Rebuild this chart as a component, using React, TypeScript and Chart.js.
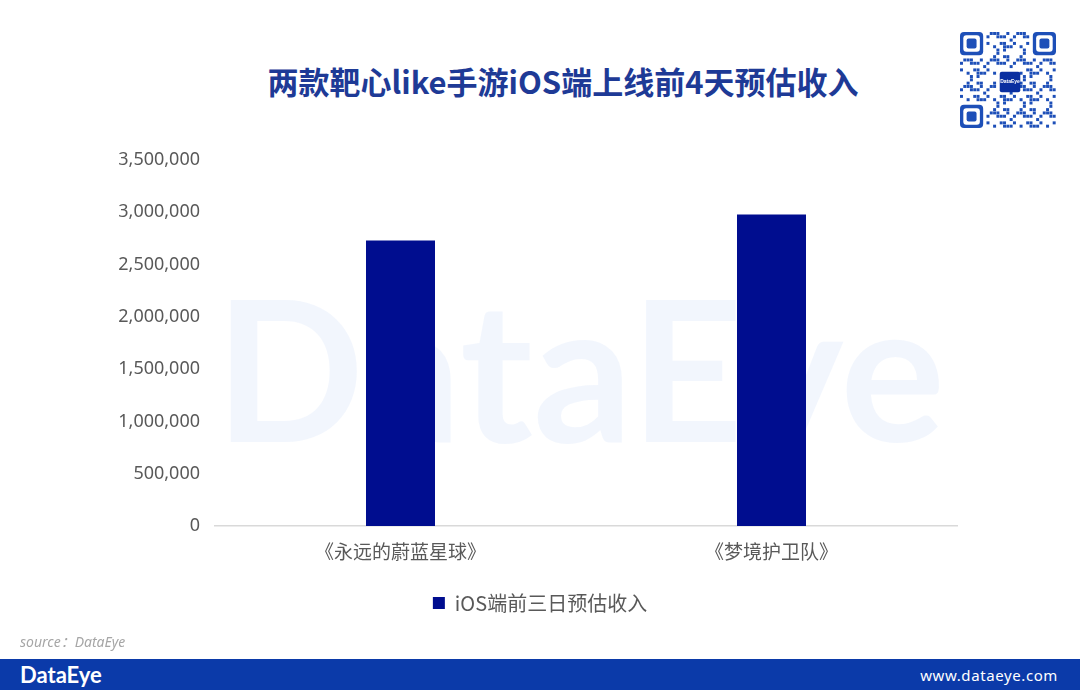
import React, { useEffect, useRef } from "react";
import { Chart, registerables } from "chart.js";

Chart.register(...registerables);

// Chart content
const TITLE = "两款靶心like手游iOS端上线前4天预估收入";
const games = ["《永远的蔚蓝星球》", "《梦境护卫队》"];
const seriesName = "iOS端前三日预估收入";
const revenue = [2730000, 2980000];
const yMin = 0;
const yMax = 3500000;
const yStep = 500000;

const BAR_COLOR = "#000d8f";
const TEXT_GRAY = "#595959";
const BRAND_BLUE = "#0b3aa9";
const CJK = '"Noto Sans CJK SC", "Noto Sans", sans-serif';

// Faint brand watermark behind the bars
const watermark = {
  id: "watermark",
  beforeDatasetsDraw(chart: any) {
    const { ctx, chartArea } = chart;
    ctx.save();
    ctx.font = 'bold 100px Lato, "Noto Sans", sans-serif';
    const w = ctx.measureText("DataEye").width;
    const targetW = 730;
    ctx.translate(chartArea.left, 442);
    ctx.scale(targetW / w, 1.95);
    ctx.fillStyle = "rgba(226, 236, 250, 0.45)";
    ctx.textBaseline = "alphabetic";
    ctx.fillText("DataEye", 0, 0);
    ctx.restore();
  },
};

// Center the legend across the full canvas width rather than the plot area
const centerLegend = {
  id: "centerLegend",
  afterLayout(chart: any) {
    const lg = chart.legend;
    if (!lg) return;
    lg.left = 0;
    lg.right = chart.width;
    lg.width = chart.width;
  },
};

function QrCode() {
  const ref = useRef<HTMLCanvasElement | null>(null);
  useEffect(() => {
    const c = ref.current;
    if (!c) return;
    const ctx = c.getContext("2d")!;
    const n = 29;
    const s = 96 / n;
    ctx.clearRect(0, 0, 96, 100);
    ctx.fillStyle = "#1d4fb8";
    const inFinder = (r: number, q: number) =>
      (r < 8 && q < 8) || (r < 8 && q >= n - 8) || (r >= n - 8 && q < 8);
    const inLogo = (r: number, q: number) => r >= 11 && r <= 17 && q >= 11 && q <= 17;
    let h = 2166136261;
    for (let r = 0; r < n; r++) {
      for (let q = 0; q < n; q++) {
        h ^= r * 31 + q * 17 + 7;
        h = Math.imul(h, 16777619) >>> 0;
        if (inFinder(r, q) || inLogo(r, q)) continue;
        if ((h & 7) < 3) ctx.fillRect(q * s, r * s, s * 0.9, s * 0.9);
      }
    }
    const finder = (x: number, y: number) => {
      ctx.fillStyle = "#1d4fb8";
      ctx.beginPath();
      ctx.roundRect(x, y, 7 * s, 7 * s, 4);
      ctx.fill();
      ctx.fillStyle = "#fff";
      ctx.beginPath();
      ctx.roundRect(x + s, y + s, 5 * s, 5 * s, 3);
      ctx.fill();
      ctx.fillStyle = "#1d4fb8";
      ctx.beginPath();
      ctx.roundRect(x + 2 * s, y + 2 * s, 3 * s, 3 * s, 2);
      ctx.fill();
    };
    finder(0, 0);
    finder((n - 7) * s, 0);
    finder(0, (n - 7) * s);
    ctx.fillStyle = "#0a2fa0";
    ctx.beginPath();
    ctx.roundRect(12 * s, 12 * s, 5 * s + 4, 5 * s + 4, 2);
    ctx.fill();
    ctx.fillStyle = "#fff";
    ctx.font = "bold 5px sans-serif";
    ctx.textAlign = "center";
    ctx.textBaseline = "middle";
    ctx.fillText("DataEye", 14.5 * s + 2, 14.5 * s + 2);
  }, []);
  return (
    <canvas
      ref={ref}
      width={96}
      height={100}
      style={{ position: "absolute", left: 960, top: 32, width: 96, height: 100 }}
    />
  );
}

export default function App() {
  const canvasRef = useRef<HTMLCanvasElement | null>(null);

  useEffect(() => {
    const canvas = canvasRef.current;
    if (!canvas) return;
    const chart = new Chart(canvas, {
      type: "bar",
      data: {
        labels: games,
        datasets: [
          {
            label: seriesName,
            data: revenue,
            backgroundColor: BAR_COLOR,
            borderWidth: 0,
            categoryPercentage: 1,
            barPercentage: 0.186,
          },
        ],
      },
      options: {
        responsive: false,
        animation: false,
        layout: { padding: { top: 160, right: 123, bottom: 67, left: 0 } },
        plugins: {
          title: { display: false },
          tooltip: { enabled: false },
          legend: {
            display: true,
            position: "bottom",
            labels: {
              boxWidth: 12,
              boxHeight: 12,
              padding: 10,
              color: TEXT_GRAY,
              font: { family: CJK, size: 20 },
            },
          },
        },
        scales: {
          x: {
            grid: { display: false, drawTicks: false },
            border: { display: true, color: "#d9d9d9", width: 1.5 },
            ticks: {
              color: TEXT_GRAY,
              padding: 14,
              font: { family: CJK, size: 19 },
            },
            afterFit(scale: any) {
              scale.height = 57;
            },
          },
          y: {
            min: yMin,
            max: yMax,
            grid: { display: false, drawTicks: false },
            border: { display: false },
            ticks: {
              stepSize: yStep,
              color: TEXT_GRAY,
              padding: 15,
              font: { family: '"Noto Sans", sans-serif', size: 18 },
              callback: (v: any) => Number(v).toLocaleString("en-US"),
            },
            afterFit(scale: any) {
              scale.width = 215;
            },
          },
        },
      },
      plugins: [watermark, centerLegend],
    });
    return () => chart.destroy();
  }, []);

  return (
    <div
      style={{
        position: "absolute",
        left: 0,
        top: 0,
        width: 1080,
        height: 690,
        background: "#ffffff",
        overflow: "hidden",
      }}
    >
      <div
        style={{
          position: "absolute",
          left: 0,
          top: 60,
          width: 1126,
          textAlign: "center",
          fontFamily: CJK,
          fontWeight: 700,
          fontSize: 31,
          lineHeight: "42px",
          color: "#1e3a96",
        }}
      >
        {TITLE}
      </div>
      <canvas
        ref={canvasRef}
        width={1080}
        height={690}
        style={{ position: "absolute", left: 0, top: 0, width: 1080, height: 690 }}
      />
      <QrCode />
      <div
        style={{
          position: "absolute",
          left: 20,
          top: 631,
          fontFamily: '"Noto Sans", "Noto Sans CJK SC", sans-serif',
          fontStyle: "italic",
          fontSize: 14,
          color: "#a6a6a6",
        }}
      >
        source：DataEye
      </div>
      <div
        style={{
          position: "absolute",
          left: 0,
          top: 659,
          width: 1080,
          height: 31,
          background: BRAND_BLUE,
        }}
      >
        <div
          style={{
            position: "absolute",
            left: 20,
            top: 2,
            fontFamily: 'Lato, "Noto Sans", sans-serif',
            fontWeight: 700,
            fontSize: 22,
            lineHeight: "28px",
            color: "#ffffff",
          }}
        >
          DataEye
        </div>
        <div
          style={{
            position: "absolute",
            right: 22,
            top: 5,
            fontFamily: '"Noto Sans", sans-serif',
            fontSize: 15,
            letterSpacing: 0.6,
            lineHeight: "22px",
            color: "#ffffff",
          }}
        >
          www.dataeye.com
        </div>
      </div>
    </div>
  );
}
